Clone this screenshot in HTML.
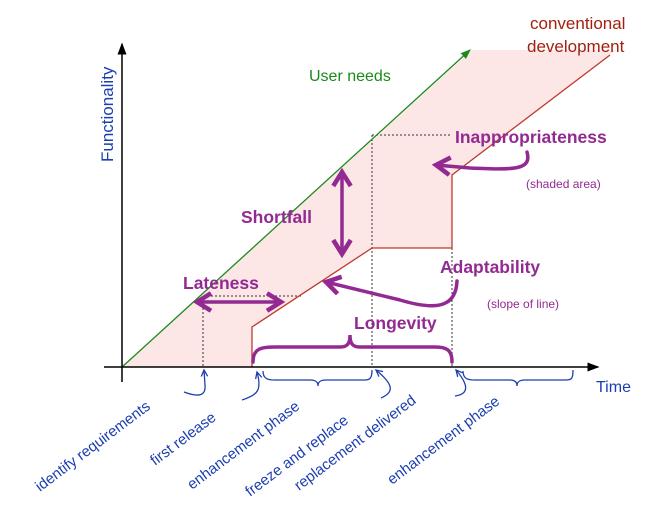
<!DOCTYPE html>
<html><head><style>
html,body{margin:0;padding:0;background:#fff;width:660px;height:521px;overflow:hidden}
text{font-family:"Comic Sans MS","Liberation Sans",sans-serif}
</style></head><body>
<svg width="660" height="521" viewBox="0 0 660 521" xmlns="http://www.w3.org/2000/svg">
<defs>
<marker id="ak" markerWidth="8" markerHeight="8" refX="7" refY="4" orient="auto"><path d="M0,1 L8,4 L0,7z" fill="#000"/></marker>
<marker id="ag" markerWidth="8" markerHeight="8" refX="7" refY="4" orient="auto"><path d="M0,1 L8,4 L0,7z" fill="#1a8a1a"/></marker>
<marker id="ap" markerWidth="6" markerHeight="6" refX="4.5" refY="3" orient="auto-start-reverse" markerUnits="strokeWidth"><path d="M0.5,0.5 L4.5,3 L0.5,5.5" fill="none" stroke="#922a92" stroke-width="1.3"/></marker>
<marker id="ab" markerWidth="6" markerHeight="6" refX="5" refY="3" orient="auto"><path d="M0,0.5 L5,3 L0,5.5" fill="none" stroke="#1c3fb0" stroke-width="1"/></marker>
</defs>
<path d="M122,367 L472,50 L616,50 L610,55 L452,175 L452,248 L372,248 L252,327 L252,367 Z" fill="#fde6e6"/>
<g stroke="#333" stroke-width="1" stroke-dasharray="2,2" fill="none">
<path d="M372,135 H452"/><path d="M372,135 V367"/><path d="M452,248 V367"/>
<path d="M203,296 V367"/><path d="M203,296 H303"/>
</g>
<path d="M252,367 V327 L372,248 H452 V175 L610,55" fill="none" stroke="#c0392b" stroke-width="1.3"/>
<line x1="122" y1="367" x2="470" y2="50" stroke="#1a8a1a" stroke-width="1.3" marker-end="url(#ag)"/>
<line x1="122" y1="382" x2="122" y2="44" stroke="#000" stroke-width="1.5" marker-end="url(#ak)"/>
<line x1="104" y1="367" x2="598" y2="367" stroke="#000" stroke-width="1.5" marker-end="url(#ak)"/>
<g stroke="#922a92" stroke-width="3.5" fill="none" stroke-linecap="round">
<path d="M197,302 H281" marker-start="url(#ap)" marker-end="url(#ap)"/>
<path d="M342,172 V254" marker-start="url(#ap)" marker-end="url(#ap)"/>
<path d="M527,152 C532,170 515,170 470,168 L436,165" marker-end="url(#ap)"/>
<path d="M457,281 C456,305 440,312 400,300 L326,282" marker-end="url(#ap)"/>
<path d="M253,362 C253,348 262,347 275,347 L340,347 C348,347 350,343 350,335 C350,343 352,347 360,347 L435,347 C447,347 452,350 452,362"/>
</g>
<g stroke="#1c3fb0" stroke-width="1.3" fill="none">
<path d="M263,371 C263,379 268,380 275,380 L310,380 C316,380 318,382 318,386 C318,382 320,380 326,380 L365,380 C370,380 372,378 372,370"/>
<path d="M463,371 C463,379 468,380 475,380 L510,380 C515,380 517,382 517,386 C517,382 519,380 525,380 L566,380 C572,380 573,378 573,370"/>
<path d="M184,392 C200,398 206,395 205,385 L204,370" marker-end="url(#ab)"/>
<path d="M242,400 C258,395 262,390 257,372" marker-end="url(#ab)"/>
<path d="M381,398 C395,392 393,384 376,370" marker-end="url(#ab)"/>
<path d="M455,396 C470,394 468,384 456,370" marker-end="url(#ab)"/>
</g>
<text x="530" y="29" fill="#a3200f" font-size="17">conventional</text>
<text x="527" y="52" fill="#a3200f" font-size="17">development</text>
<text x="309" y="81" fill="#1a8a1a" font-size="16">User needs</text>
<text transform="translate(113,162) rotate(-90)" fill="#1c3fb0" font-size="17">Functionality</text>
<text x="596" y="392" fill="#1c3fb0" font-size="16">Time</text>
<g fill="#922a92" font-weight="bold" font-size="17.5">
<text x="455" y="143">Inappropriateness</text>
<text x="241" y="223">Shortfall</text>
<text x="183" y="289">Lateness</text>
<text x="440" y="273">Adaptability</text>
<text x="354" y="329">Longevity</text>
</g>
<g fill="#922a92" font-size="12">
<text x="526" y="188">(shaded area)</text>
<text x="487" y="308">(slope of line)</text>
</g>
<g fill="#1c3fb0" font-size="15">
<text transform="translate(40,492) rotate(-37)">identify requirements</text>
<text transform="translate(155,466) rotate(-37)">first release</text>
<text transform="translate(192,490) rotate(-37)">enhancement phase</text>
<text transform="translate(250,497) rotate(-37)">freeze and replace</text>
<text transform="translate(299,491) rotate(-37)">replacement delivered</text>
<text transform="translate(392,485) rotate(-37)">enhancement phase</text>
</g>
</svg>
</body></html>
